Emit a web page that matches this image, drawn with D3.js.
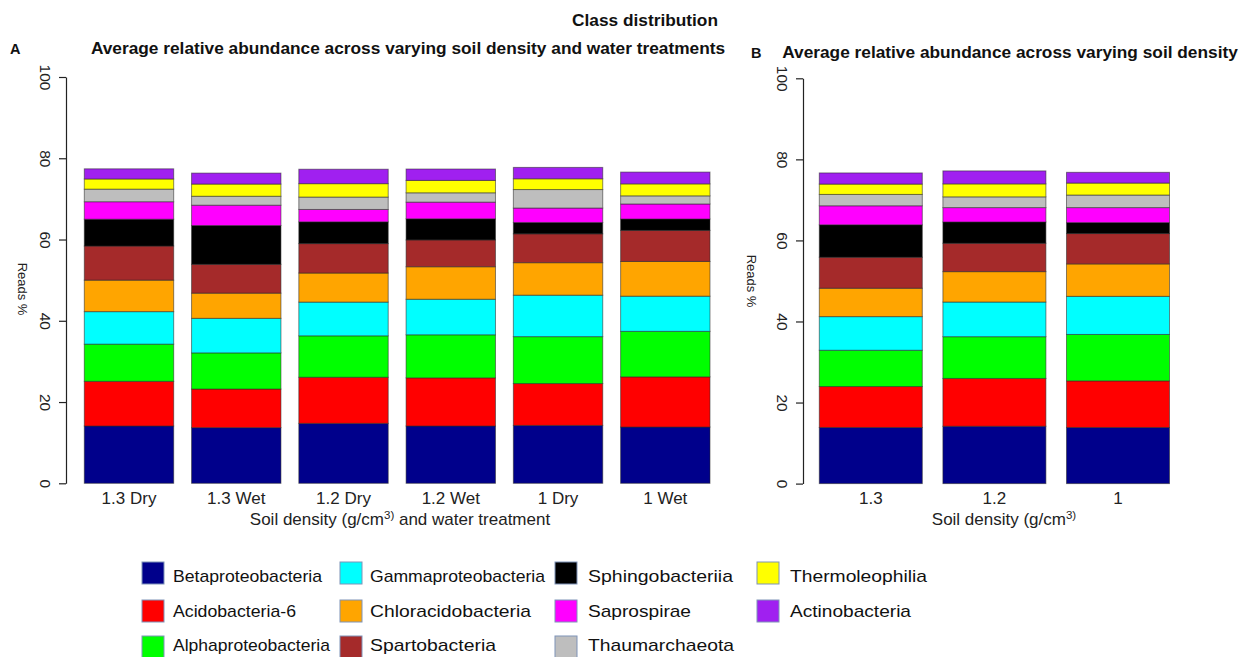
<!DOCTYPE html>
<html>
<head>
<meta charset="utf-8">
<script src="https://cdn.jsdelivr.net/npm/d3@7"></script>
<style>
  html, body { margin: 0; padding: 0; background: #fff; }
  svg { display: block; font-family: "Liberation Sans", Arial, sans-serif; }
</style>
</head>
<body>
<svg id="chart" width="1243" height="657"></svg>
<script>
// Bacterial classes, bottom to top in each stacked bar
const classes = ["Betaproteobacteria", "Acidobacteria-6", "Alphaproteobacteria",
  "Gammaproteobacteria", "Chloracidobacteria", "Spartobacteria",
  "Sphingobacteriia", "Saprospirae", "Thaumarchaeota",
  "Thermoleophilia", "Actinobacteria"];
const classColors = ["#00008B", "#FF0000", "#00FF00", "#00FFFF", "#FFA500", "#A52A2A",
  "#000000", "#FF00FF", "#BEBEBE", "#FFFF00", "#A020F0"];

// Panel A: density x water treatment
const treatments = ["1.3 Dry", "1.3 Wet", "1.2 Dry", "1.2 Wet", "1 Dry", "1 Wet"];
const betaA    = [14.1, 13.7, 14.75, 14.1, 14.25, 13.85];
const acidoA   = [11.0, 9.5, 11.35, 11.85, 10.3, 12.35];
const alphaA   = [9.15, 8.9, 10.2, 10.6, 11.55, 11.2];
const gammaA   = [8.0, 8.5, 8.3, 8.75, 10.2, 8.65];
const chloraA  = [7.75, 6.2, 7.15, 8.0, 8.0, 8.55];
const spartoA  = [8.4, 7.1, 7.25, 6.6, 7.1, 7.65];
const sphingoA = [6.6, 9.55, 5.35, 5.2, 2.8, 2.8];
const saproA   = [4.3, 5.0, 3.05, 4.1, 3.55, 3.7];
const thaumA   = [3.1, 2.2, 3.05, 2.3, 4.55, 2.0];
const thermoA  = [2.5, 3.0, 3.3, 3.05, 2.65, 2.95];
const actinoA  = [2.5, 2.7, 3.55, 2.8, 2.8, 2.9];

// Panel B: density only
const densities = ["1.3", "1.2", "1"];
const betaB    = [13.85, 14.15, 13.85];
const acidoB   = [10.1, 11.8, 11.5];
const alphaB   = [8.95, 10.3, 11.45];
const gammaB   = [8.3, 8.55, 9.4];
const chloraB  = [7.0, 7.5, 8.0];
const spartoB  = [7.65, 7.0, 7.5];
const sphingoB = [8.0, 5.25, 2.7];
const saproB   = [4.7, 3.55, 3.7];
const thaumB   = [2.8, 2.65, 3.1];
const thermoB  = [2.55, 3.2, 2.95];
const actinoB  = [2.75, 3.2, 2.65];

const yTicks = [0, 20, 40, 60, 80, 100];

const seriesA = [betaA, acidoA, alphaA, gammaA, chloraA, spartoA, sphingoA, saproA, thaumA, thermoA, actinoA];
const seriesB = [betaB, acidoB, alphaB, gammaB, chloraB, spartoB, sphingoB, saproB, thaumB, thermoB, actinoB];

const svg = d3.select("#chart");

function rows(cats, series) {
  return cats.map((c, i) => {
    const r = { cat: c };
    classes.forEach((k, j) => r[k] = series[j][i]);
    return r;
  });
}

function panel(cats, series, xRange, axisX, yRange, labelX, labelY) {
  const x = d3.scaleBand().domain(cats).range(xRange).paddingInner(1 / 6).paddingOuter(0);
  const y = d3.scaleLinear().domain([0, 100]).range(yRange);
  const stacked = d3.stack().keys(classes)(rows(cats, series));
  const g = svg.append("g");

  g.selectAll("g.layer").data(stacked).join("g")
    .attr("class", "layer")
    .attr("fill", (d, i) => classColors[i])
    .selectAll("rect").data(d => d).join("rect")
      .attr("x", d => x(d.data.cat))
      .attr("width", x.bandwidth())
      .attr("y", d => y(d[1]))
      .attr("height", d => y(d[0]) - y(d[1]))
      .attr("stroke", "rgba(40,40,40,0.55)")
      .attr("stroke-width", 1);

  // y axis, R style: line from first to last tick, rotated labels
  const ax = g.append("g").attr("transform", `translate(${axisX},0)`)
    .call(d3.axisLeft(y).tickValues(yTicks).tickSize(7).tickSizeOuter(0).tickFormat(d3.format("d")));
  ax.select(".domain").attr("stroke", "#222").attr("stroke-width", 1.2);
  ax.selectAll(".tick line").attr("stroke", "#222").attr("stroke-width", 1.2);
  ax.selectAll(".tick text")
    .attr("x", 0).attr("y", 0).attr("dy", null)
    .attr("text-anchor", "middle")
    .attr("font-size", 15.5).attr("fill", "#222")
    .attr("transform", "translate(-21,0) rotate(90)")
    .attr("dominant-baseline", "central");

  g.append("text")
    .attr("transform", `translate(${labelX},${labelY}) rotate(90)`)
    .attr("text-anchor", "middle").attr("font-size", 13).attr("fill", "#222")
    .text("Reads %");

  // category labels
  g.selectAll("text.cat").data(cats).join("text")
    .attr("class", "cat")
    .attr("x", d => x(d) + x.bandwidth() / 2)
    .attr("y", 504)
    .attr("text-anchor", "middle").attr("font-size", 17).attr("fill", "#222")
    .text(d => d);
  return g;
}

panel(treatments, seriesA, [84.3, 710], 66, [483.3, 77], 18, 289);
panel(densities, seriesB, [819.3, 1169.5], 803, [483.6, 78.3], 747, 281);

// x axis titles
const tA = svg.append("text").attr("x", 400).attr("y", 525)
  .attr("text-anchor", "middle").attr("font-size", 17).attr("fill", "#222");
tA.append("tspan").text("Soil density (g/cm");
tA.append("tspan").attr("font-size", 11.5).attr("dy", -6).text("3)");
tA.append("tspan").attr("dy", 6).text(" and water treatment");

const tB = svg.append("text").attr("x", 1004).attr("y", 525)
  .attr("text-anchor", "middle").attr("font-size", 17).attr("fill", "#222");
tB.append("tspan").text("Soil density (g/cm");
tB.append("tspan").attr("font-size", 11.5).attr("dy", -6).text("3)");

// titles
svg.append("text").attr("x", 645).attr("y", 26).attr("text-anchor", "middle")
  .attr("font-size", 17.3).attr("font-weight", "bold").attr("fill", "#111").text("Class distribution");
svg.append("text").attr("x", 408).attr("y", 54).attr("text-anchor", "middle")
  .attr("font-size", 17.3).attr("font-weight", "bold").attr("fill", "#111")
  .text("Average relative abundance across varying soil density and water treatments");
svg.append("text").attr("x", 10).attr("y", 54)
  .attr("font-size", 14.5).attr("font-weight", "bold").attr("fill", "#111").text("A");
svg.append("text").attr("x", 751).attr("y", 58)
  .attr("font-size", 14.5).attr("font-weight", "bold").attr("fill", "#111").text("B");
svg.append("text").attr("x", 1010).attr("y", 58).attr("text-anchor", "middle")
  .attr("font-size", 17.3).attr("font-weight", "bold").attr("fill", "#111")
  .text("Average relative abundance across varying soil density");

// legend, filled column by column
const swatchX = [142, 340, 555, 757];
const labelXs = [173, 370, 588, 790];
const rowY = [562, 600, 636];
const textY = [582, 617, 651];
const labelW = [149, 123, 157, 175, 161, 126, 145, 103, 146, 137, 121];
const leg = svg.append("g");
leg.selectAll("rect").data(classes).join("rect")
  .attr("x", (d, i) => swatchX[Math.floor(i / 3)])
  .attr("y", (d, i) => rowY[i % 3])
  .attr("width", 22).attr("height", 22)
  .attr("fill", (d, i) => classColors[i])
  .attr("stroke", "#7f93b8").attr("stroke-width", 1);
leg.selectAll("text").data(classes).join("text")
  .attr("x", (d, i) => labelXs[Math.floor(i / 3)])
  .attr("y", (d, i) => textY[i % 3])
  .attr("font-size", 17).attr("fill", "#111")
  .attr("textLength", (d, i) => labelW[i])
  .attr("lengthAdjust", "spacingAndGlyphs")
  .text(d => d);
</script>
</body>
</html>
